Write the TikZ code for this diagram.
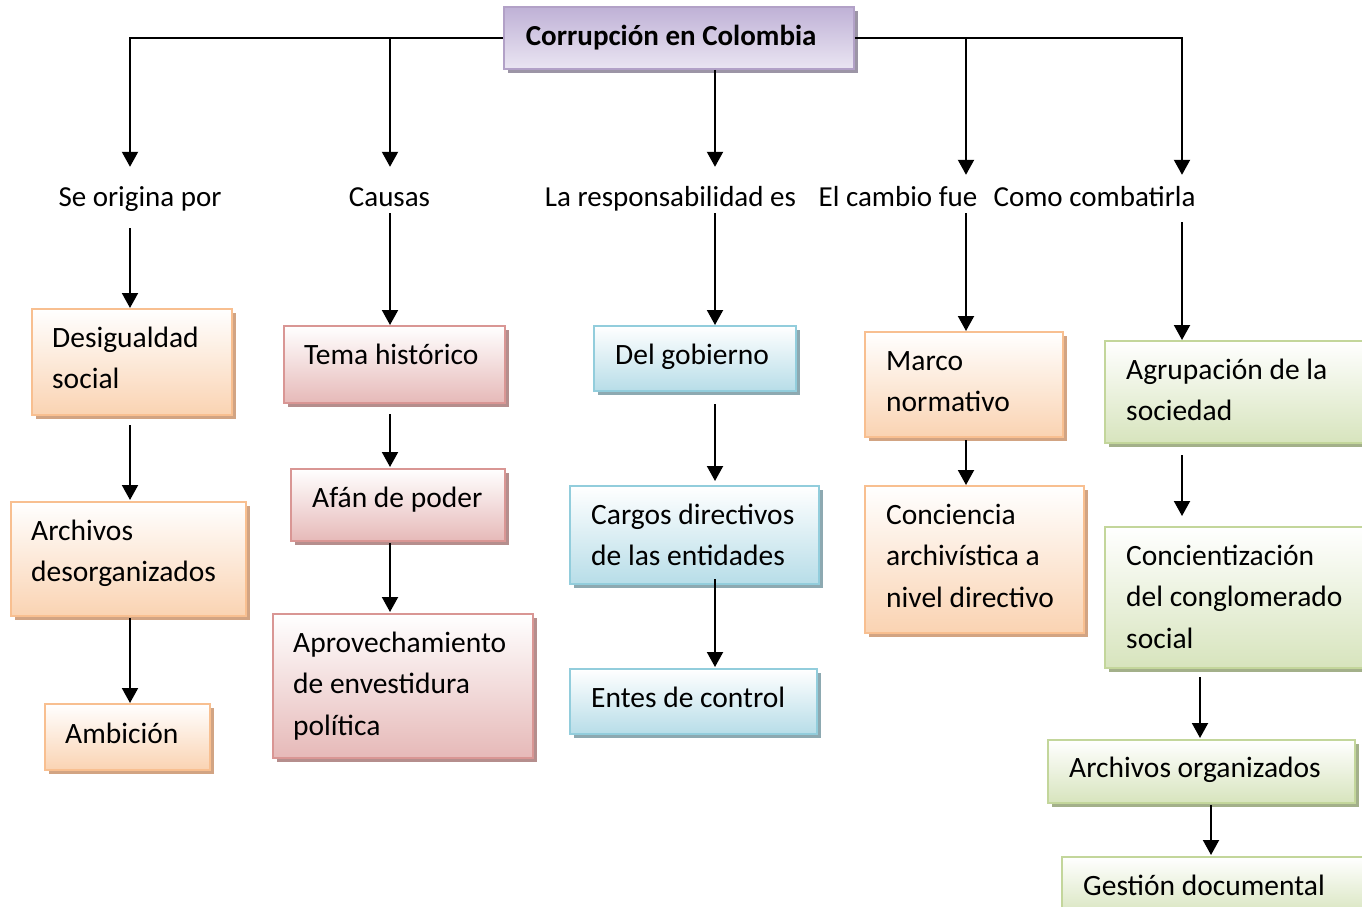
\documentclass[tikz,border=0pt]{standalone}
\usepackage{fontspec}
\setmainfont{Carlito}
\usetikzlibrary{arrows.meta,shadows}
\definecolor{obord}{HTML}{F8BF90}
\definecolor{ofill}{HTML}{FAD3B2}
\definecolor{oshad}{HTML}{D2A483}
\definecolor{rbord}{HTML}{D99694}
\definecolor{rfill}{HTML}{E6B9B8}
\definecolor{rshad}{HTML}{B58E8D}
\definecolor{bbord}{HTML}{92CDDC}
\definecolor{bfill}{HTML}{B7DDE8}
\definecolor{bshad}{HTML}{8DA9B1}
\definecolor{gbord}{HTML}{C3D69B}
\definecolor{gfill}{HTML}{D7E4BD}
\definecolor{gshad}{HTML}{A3B08A}
\definecolor{pbord}{HTML}{B2A1C7}
\definecolor{ptop}{HTML}{BFB1D6}
\definecolor{pbot}{HTML}{EAE5F2}
\definecolor{pshad}{HTML}{9C95A6}
\tikzset{
  box/.style={draw, line width=2.2pt, anchor=north west, inner sep=0pt},
  obox/.style={box, draw=obord, top color=white, bottom color=ofill,
    general shadow={fill=oshad, shadow xshift=4pt, shadow yshift=-4pt}},
  rbox/.style={box, draw=rbord, top color=white, bottom color=rfill,
    general shadow={fill=rshad, shadow xshift=4pt, shadow yshift=-4pt}},
  bbox/.style={box, draw=bbord, top color=white, bottom color=bfill,
    general shadow={fill=bshad, shadow xshift=4pt, shadow yshift=-4pt}},
  gbox/.style={box, draw=gbord, top color=white, bottom color=gfill,
    general shadow={fill=gshad, shadow xshift=4pt, shadow yshift=-4pt}},
  btext/.style={anchor=north west, inner sep=0pt, align=flush left, text=black,
    font=\fontsize{29.5}{41.5}\selectfont},
  tbox/.style={draw=pbord, line width=1.8pt, anchor=north west, top color=ptop, bottom color=pbot,
    inner xsep=22pt, inner ysep=0pt, align=flush left,
    font=\fontsize{29}{35}\selectfont\bfseries,
    general shadow={fill=pshad, shadow xshift=4pt, shadow yshift=-4pt}},
  lab/.style={inner sep=0pt, text height=20pt, text depth=6pt,
    font=\fontsize{29}{35}\selectfont},
  arr/.style={line width=2pt, -{Triangle[width=16pt,length=15pt]}},
}
\begin{document}
\begin{tikzpicture}[x=1pt,y=-1pt]
\useasboundingbox (0,0) rectangle (1362,907);
\clip (0,0) rectangle (1362,907);

% column coordinates
\coordinate (k1) at (130,0);
\coordinate (k2) at (390,0);
\coordinate (k3) at (715,0);
\coordinate (k4) at (966,0);
\coordinate (k5) at (1182,0);
\coordinate (k6) at (1200,0);
\coordinate (k7) at (1211,0);

% title
\node[tbox, minimum width=350pt, minimum height=62pt, text width=306pt] (title) at (503,6) {Corrupción en Colombia};

% labels
\node[lab] (lab1) at (140,199) {Se origina por};
\node[lab] (lab2) at (389.5,199) {Causas};
\node[lab] (lab3) at (670.5,199) {La responsabilidad es};
\node[lab] (lab4) at (898,199) {El cambio fue};
\node[lab] (lab5) at (1094.5,199) {Como combatirla};

% boxes column 1
\node[obox, minimum width=200pt, minimum height=106pt] (des) at (31,308) {};
\node[obox, minimum width=235pt, minimum height=114pt] (ades) at (10,501) {};
\node[obox, minimum width=165pt, minimum height=66pt] (amb) at (44,703) {};
% column 2
\node[rbox, minimum width=221pt, minimum height=77pt] (tema) at (283,325) {};
\node[rbox, minimum width=214pt, minimum height=72pt] (afan) at (290,468) {};
\node[rbox, minimum width=260pt, minimum height=144pt] (aprov) at (272,613) {};
% column 3
\node[bbox, minimum width=202pt, minimum height=65pt] (gob) at (593,325) {};
\node[bbox, minimum width=249pt, minimum height=98pt] (cargos) at (569,485) {};
\node[bbox, minimum width=247pt, minimum height=65pt] (entes) at (569,668) {};
% column 4
\node[obox, minimum width=198pt, minimum height=105pt] (marco) at (864,331) {};
\node[obox, minimum width=219pt, minimum height=147pt] (conc) at (864,485) {};
% column 5
\node[gbox, minimum width=270pt, minimum height=102pt] (agrup) at (1104,340) {};
\node[gbox, minimum width=270pt, minimum height=141pt] (concient) at (1104,526) {};
\node[gbox, minimum width=307pt, minimum height=63pt] (aorg) at (1047,739) {};
\node[gbox, minimum width=320pt, minimum height=60pt] (gest) at (1061,856) {};

% box texts
\node[btext] (desT) at ([xshift=21pt,yshift=-10pt]des.north west) {\strut Desigualdad\\social};
\node[btext] (adesT) at ([xshift=21pt,yshift=-10pt]ades.north west) {\strut Archivos\\desorganizados};
\node[btext] (ambT) at ([xshift=21pt,yshift=-11pt]amb.north west) {\strut Ambición};
\node[btext] (temaT) at ([xshift=21pt,yshift=-10pt]tema.north west) {\strut Tema histórico};
\node[btext] (afanT) at ([xshift=22pt,yshift=-10pt]afan.north west) {\strut Afán de poder};
\node[btext] (aprovT) at ([xshift=21pt,yshift=-10pt]aprov.north west) {\strut Aprovechamiento\\de envestidura\\política};
\node[btext] (gobT) at ([xshift=22pt,yshift=-10pt]gob.north west) {\strut Del gobierno};
\node[btext] (cargosT) at ([xshift=22pt,yshift=-10pt]cargos.north west) {\strut Cargos directivos\\de las entidades};
\node[btext] (entesT) at ([xshift=22pt,yshift=-10pt]entes.north west) {\strut Entes de control};
\node[btext] (marcoT) at ([xshift=22pt,yshift=-10pt]marco.north west) {\strut Marco\\normativo};
\node[btext] (concT) at ([xshift=22pt,yshift=-10pt]conc.north west) {\strut Conciencia\\archivística a\\nivel directivo};
\node[btext] (agrupT) at ([xshift=22pt,yshift=-10pt]agrup.north west) {\strut Agrupación de la\\sociedad};
\node[btext] (concientT) at ([xshift=22pt,yshift=-10pt]concient.north west) {\strut Concientización\\del conglomerado\\social};
\node[btext] (aorgT) at ([xshift=22pt,yshift=-9pt]aorg.north west) {\strut Archivos organizados};
\node[btext] (gestT) at ([xshift=22pt,yshift=-10pt]gest.north west) {\strut Gestión documental};

% connectors from title
\draw[arr, shorten >=19pt] (title.west) -| (k1 |- lab1.north);
\draw[arr, shorten >=19pt] (title.west -| k2) -- (k2 |- lab2.north);
\draw[arr, shorten >=19pt] (title.south -| k3) -- (k3 |- lab3.north);
\draw[arr, shorten >=11pt] (title.east -| k4) -- (k4 |- lab4.north);
\draw[arr, shorten >=11pt] (title.east) -| (k5 |- lab5.north);

% labels to first boxes
\draw[arr, shorten <=16pt] (lab1.south -| k1) -- (des.north -| k1);
\draw[arr, shorten <=1pt] (lab2.south -| k2) -- (tema.north -| k2);
\draw[arr, shorten <=1pt] (lab3.south -| k3) -- (gob.north -| k3);
\draw[arr, shorten <=1pt] (lab4.south -| k4) -- (marco.north -| k4);
\draw[arr, shorten <=10pt] (lab5.south -| k5) -- (agrup.north -| k5);

% box to box
\draw[arr, shorten <=9pt, shorten >=1pt] (des.south -| k1) -- (ades.north -| k1);
\draw[arr, shorten <=1pt] (ades.south -| k1) -- (amb.north -| k1);
\draw[arr, shorten <=10pt, shorten >=1pt] (tema.south -| k2) -- (afan.north -| k2);
\draw[arr, shorten <=1pt, shorten >=1pt] (afan.south -| k2) -- (aprov.north -| k2);
\draw[arr, shorten <=12pt, shorten >=4pt] (gob.south -| k3) -- (cargos.north -| k3);
\draw[arr, shorten <=-6pt, shorten >=1pt] (cargos.south -| k3) -- (entes.north -| k3);
\draw[arr, shorten <=2pt] (marco.south -| k4) -- (conc.north -| k4);
\draw[arr, shorten <=11pt, shorten >=10pt] (agrup.south -| k5) -- (concient.north -| k5);
\draw[arr, shorten <=8pt, shorten >=1pt] (concient.south -| k6) -- (aorg.north -| k6);
\draw[arr, shorten <=1pt, shorten >=1pt] (aorg.south -| k7) -- (gest.north -| k7);
\end{tikzpicture}
\end{document}
